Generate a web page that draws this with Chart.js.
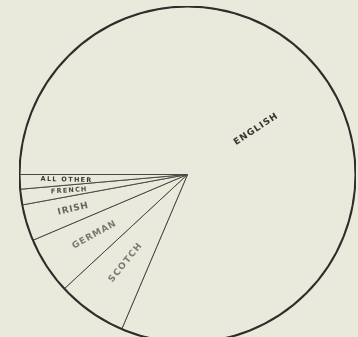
<!DOCTYPE html>
<html>
<head>
<meta charset="utf-8">
<script src="https://cdn.jsdelivr.net/npm/chart.js@4/dist/chart.umd.min.js"></script>
<style>
  html, body { margin: 0; padding: 0; width: 358px; height: 337px; overflow: hidden; background: #e9e9dc; }
  #wrap { position: absolute; left: 19px; top: 6px; width: 337px; height: 337px; }
</style>
</head>
<body>
<div id="wrap"><canvas id="pie" width="337" height="337"></canvas></div>
<script>
// Nationality shares (percent), drawn clockwise from the left horizontal radius
const nationalities = ["ENGLISH", "SCOTCH", "GERMAN", "IRISH", "FRENCH", "ALL OTHER"];
const shares = [81.4, 6.7, 5.5, 3.5, 1.5, 1.4];

// label placement: fraction of radius from centre, font, letter spacing, colour
const labelRadius = [0.49, 0.64, 0.66, 0.71, 0.71, 0.72];
const labelFont = ["bold 9px", "bold 9px", "bold 9px", "bold 9px", "bold 6.5px", "bold 6.5px"];
const labelSpacing = [1, 1.2, 0.9, 0.8, 1.2, 1.3];
const labelInk = ["#333330", "#7a7a73", "#7a7a73", "#66665f", "#4a4a45", "#3a3a36"];

const sliceLabels = {
  id: "sliceLabels",
  afterDatasetsDraw(chart) {
    const ctx = chart.ctx;
    const arcs = chart.getDatasetMeta(0).data;
    ctx.save();
    arcs.forEach((arc, i) => {
      const mid = (arc.startAngle + arc.endAngle) / 2;
      const r = arc.outerRadius * labelRadius[i];
      const x = arc.x + Math.cos(mid) * r;
      const y = arc.y + Math.sin(mid) * r;
      // the big slice reads outward along its bisector, the small ones read toward the centre
      const rot = i === 0 ? mid : mid + Math.PI + 4 * Math.PI / 180;
      ctx.save();
      ctx.translate(x, y);
      ctx.rotate(rot);
      ctx.font = labelFont[i] + " 'DejaVu Sans', sans-serif";
      ctx.letterSpacing = labelSpacing[i] + "px";
      ctx.fillStyle = labelInk[i];
      ctx.textAlign = "center";
      ctx.textBaseline = "middle";
      ctx.fillText(nationalities[i], 0, 0);
      ctx.restore();
    });
    // heavier outline round the whole circle
    const a = arcs[0];
    ctx.beginPath();
    ctx.arc(a.x, a.y, a.outerRadius, 0, Math.PI * 2);
    ctx.lineWidth = 2;
    ctx.strokeStyle = "#2e2e2b";
    ctx.stroke();
    ctx.restore();
  }
};

new Chart(document.getElementById("pie"), {
  type: "pie",
  data: {
    labels: nationalities,
    datasets: [{
      data: shares,
      backgroundColor: "#e9e9dc",
      borderColor: "#4a4a46",
      borderWidth: 1
    }]
  },
  options: {
    responsive: false,
    devicePixelRatio: 1,
    animation: false,
    rotation: 270,
    layout: { padding: 0 },
    plugins: { legend: { display: false }, tooltip: { enabled: false } }
  },
  plugins: [sliceLabels]
});
</script>
</body>
</html>
